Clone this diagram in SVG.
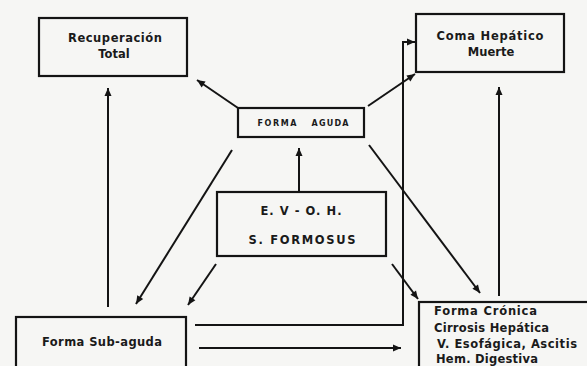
<svg xmlns="http://www.w3.org/2000/svg" width="587" height="366" viewBox="0 0 587 366">
<style>
.box{fill:none;stroke:#141414;stroke-width:2.2}
.c{fill:none;stroke:#141414;stroke-width:2}
text{font-family:"DejaVu Sans","Liberation Sans",Arial,sans-serif;font-weight:bold;fill:#1a1a1a}
.m{font-size:11.5px;text-anchor:middle}
.s{font-size:8px;text-anchor:middle}
.l{font-size:11.5px}
</style>
<defs>
<marker id="ah" markerUnits="userSpaceOnUse" markerWidth="10" markerHeight="10" viewBox="0 0 10 10" refX="9" refY="5" orient="auto">
<path d="M1,1.5 L9,5 L1,8.5 Z" fill="#141414"/>
</marker>
</defs>
<rect width="587" height="366" fill="#f6f6f4"/>
<g id="connectors">
<path class="c" d="M238,108 L197,80" marker-end="url(#ah)"/>
<path class="c" d="M368,106 L415,74" marker-end="url(#ah)"/>
<path class="c" d="M108,307 L108,88" marker-end="url(#ah)"/>
<path class="c" d="M232,150 L136,304" marker-end="url(#ah)"/>
<path class="c" d="M299,192 L299,148" marker-end="url(#ah)"/>
<path class="c" d="M216,264 L188,305" marker-end="url(#ah)"/>
<path class="c" d="M392,264 L418,299" marker-end="url(#ah)"/>
<path class="c" d="M369,145 L480,293" marker-end="url(#ah)"/>
<path class="c" d="M195,325 L403,325 L403,42 L415,42" marker-end="url(#ah)"/>
<path class="c" d="M199,348 L401,348" marker-end="url(#ah)"/>
<path class="c" d="M499,296 L499,87" marker-end="url(#ah)"/>
</g>
<g id="recuperacion">
<rect class="box" x="39" y="18" width="148" height="58"/>
<text class="m" x="115" y="42" textLength="94">Recuperación</text>
<text class="m" x="114" y="58">Total</text>
</g>
<g id="coma">
<rect class="box" x="416" y="14" width="148" height="58"/>
<text class="m" x="490" y="40" textLength="107">Coma Hepático</text>
<text class="m" x="491" y="56">Muerte</text>
</g>
<g id="forma-aguda">
<rect class="box" x="238" y="108" width="126" height="29"/>
<text class="s" x="277" y="126" textLength="39">FORMA</text>
<text class="s" x="330" y="126" textLength="37">AGUDA</text>
</g>
<g id="evoh">
<rect class="box" x="217" y="192" width="169" height="64"/>
<text class="m" x="301" y="215" textLength="81">E. V - O. H.</text>
<text class="m" x="302" y="244" textLength="107">S. FORMOSUS</text>
</g>
<g id="sub-aguda">
<rect class="box" x="16" y="317" width="170" height="70"/>
<text class="m" x="102" y="346" textLength="120">Forma Sub-aguda</text>
</g>
<g id="cronica">
<rect class="box" x="419" y="302" width="190" height="80"/>
<text class="l" x="434" y="315" textLength="103">Forma Crónica</text>
<text class="l" x="434" y="332" textLength="115">Cirrosis Hepática</text>
<text class="l" x="437" y="348" textLength="140">V. Esofágica, Ascitis</text>
<text class="l" x="436" y="363" textLength="102">Hem. Digestiva</text>
</g>
</svg>
